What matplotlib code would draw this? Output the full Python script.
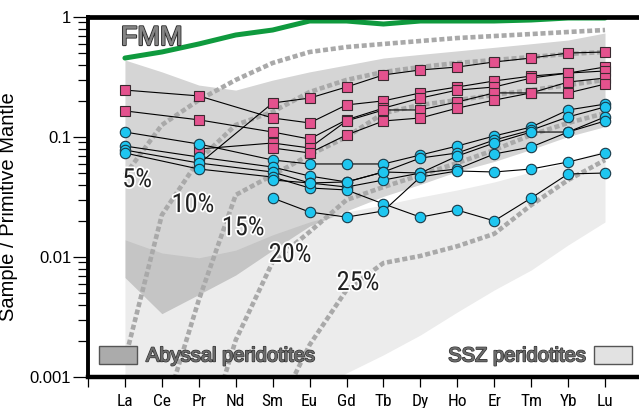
import numpy as np
import matplotlib
matplotlib.use("Agg")
import matplotlib.pyplot as plt
import matplotlib.patheffects as pe
from matplotlib import font_manager as fm
from matplotlib.patches import Rectangle
from matplotlib.ticker import FixedLocator, NullFormatter

# ---- data -----------------------------------------------------------------
elements = ["La", "Ce", "Pr", "Nd", "Sm", "Eu", "Gd", "Tb", "Dy", "Ho", "Er", "Tm", "Yb", "Lu"]

# Fertile MORB mantle
fmm = [0.455, 0.511, 0.596, 0.708, 0.779, 0.926, 0.926, 0.874, 0.926, 0.926, 0.926, 0.944, 0.981, 0.981]

# Samples (None = not analysed)
pink_samples = [
    [None, None, 0.0596, None, 0.192, 0.211, 0.261, 0.329, 0.362, 0.383, 0.422, 0.455, 0.501, 0.511],
    [0.246, None, 0.220, None, 0.144, 0.131, 0.185, 0.200, 0.233, 0.261, 0.293, 0.322, 0.341, 0.383],
    [0.165, None, 0.139, None, 0.110, 0.0962, 0.139, 0.174, 0.211, 0.246, 0.261, 0.310, 0.341, 0.355],
    [None, None, 0.0794, None, 0.0891, 0.0810, 0.136, 0.168, 0.168, 0.196, 0.233, 0.233, 0.287, 0.310],
    [None, None, None, None, 0.0810, 0.0736, 0.104, 0.136, 0.144, 0.174, 0.203, 0.233, 0.233, 0.276],
]
blue_samples = [
    [0.110, None, 0.0874, None, 0.0643, 0.0596, 0.0596, 0.0596, 0.0708, 0.0841, 0.102, 0.121, 0.168, 0.188],
    [0.0841, None, 0.0681, None, 0.0562, 0.0473, 0.0422, 0.0511, 0.0668, 0.0736, 0.0944, 0.114, 0.147, 0.178],
    [0.0779, None, 0.0607, None, 0.0511, 0.0414, 0.0383, 0.0438, 0.0501, 0.0694, 0.0891, 0.110, 0.110, 0.147],
    [0.0736, None, 0.0541, None, 0.0464, 0.0376, 0.0362, 0.0277, 0.0215, 0.0246, 0.0200, 0.0310, 0.0492, 0.0501],
    [None, None, None, None, 0.0438, 0.0414, 0.0422, 0.0511, 0.0501, 0.0541, 0.0722, 0.0825, 0.110, 0.136],
    [None, None, None, None, 0.0310, 0.0237, 0.0215, 0.0242, 0.0464, 0.0521, 0.0511, 0.0541, 0.0619, 0.0736],
]

# Compositional fields (upper / lower envelopes)
abyssal_upper = [0.438, 0.349, 0.271, 0.246, 0.298, 0.349, 0.398, 0.455, 0.488, 0.522, 0.559, 0.599, 0.643, 0.736]
abyssal_lower = [0.00675, 0.00337, 0.00487, 0.00708, 0.0114, 0.0181, 0.0242, 0.0320, 0.0403, 0.0516, 0.0625, 0.0787, 0.101, 0.122]
ssz_upper = [0.0139, 0.0108, 0.00984, 0.0114, 0.0153, 0.0196, 0.0237, 0.0272, 0.0316, 0.0362, 0.0422, 0.0511, 0.0619, 0.078]
ssz_lower = [0.0003, 0.0003, 0.0003, 0.0003, 0.000529, 0.000708, 0.00108, 0.00153, 0.00224, 0.00348, 0.00531, 0.00779, 0.0126, 0.0196]

# Melting curves (degree of partial melting)
melt_labels = ["5%", "10%", "15%", "20%", "25%"]
melt_curves = [
    [0.0482, 0.126, 0.203, 0.299, 0.414, 0.511, 0.562, 0.596, 0.631, 0.668, 0.694, 0.721, 0.750, 0.779],
    [0.00139, 0.0224, 0.0643, 0.126, 0.162, 0.237, 0.299, 0.348, 0.383, 0.414, 0.438, 0.464, 0.492, 0.511],
    [0.0001, 0.00044, 0.00438, 0.0329, 0.0482, 0.0708, 0.100, 0.158, 0.185, 0.203, 0.224, 0.246, 0.271, 0.299],
    [0.0001, 0.0001, 0.0002, 0.00203, 0.00909, 0.0162, 0.0299, 0.0383, 0.0482, 0.0607, 0.0779, 0.104, 0.131, 0.158],
    [0.0001, 0.0001, 0.0001, 0.0001, 0.00044, 0.00185, 0.00531, 0.00891, 0.0102, 0.0123, 0.0156, 0.0271, 0.0438, 0.0643],
]
melt_label_pos = [(1.33, 0.0438), (2.84, 0.0271), (4.2, 0.0174), (5.47, 0.0104), (7.31, 0.00607)]


# ---- fonts -------------------------------------------------------------------
def narrow_font():
    names = {f.name for f in fm.fontManager.ttflist}
    for name in ("Liberation Sans Narrow", "Arial Narrow", "Roboto Condensed",
                 "Open Sans Condensed", "Noto Sans Condensed"):
        if name in names:
            return dict(family=[name, "DejaVu Sans"])
    for f in fm.fontManager.ttflist:
        if (f.name in ("Roboto", "Open Sans", "Noto Sans")
                and str(f.stretch) in ("condensed", "semi-condensed")
                and f.style == "normal" and f.weight in (400, "normal", "regular")):
            return dict(family=[f.name, "DejaVu Sans"], stretch=f.stretch)
    return dict(family=["Liberation Sans", "DejaVu Sans"])


NARROW = narrow_font()
SANS = ["Liberation Sans", "DejaVu Sans"]

# ---- figure -----------------------------------------------------------------
W, H = 639, 408
fig = plt.figure(figsize=(W / 100, H / 100), dpi=100)
ax = fig.add_axes([88 / W, 1 - 377 / H, (W - 88) / W, (377 - 17) / H])

x = np.arange(1, len(elements) + 1)

ax.fill_between(x, ssz_lower, ssz_upper, color="#ececec", lw=0, zorder=1)
ax.fill_between(x, abyssal_lower, abyssal_upper, color="black", alpha=0.165, lw=0, zorder=1.1)

for curve in melt_curves:
    ax.plot(x, curve, color="#a9a9a9", lw=3.3, ls=(0, (1.1, 0.6)), zorder=2,
            dash_capstyle="butt")

halo = [pe.withStroke(linewidth=2.5, foreground="white")]
for lab, (lx, ly) in zip(melt_labels, melt_label_pos):
    ax.text(lx, ly, lab, fontsize=19, color="#222222", ha="center", va="center",
            path_effects=halo, zorder=3, **NARROW)

ax.plot(x, fmm, color="#0f9a3e", lw=3.6, zorder=3, solid_capstyle="round")
ax.text(0.89, 0.668, "FMM", fontsize=19.5, color="#858585", ha="left", va="center",
        family=SANS,
        path_effects=[pe.withStroke(linewidth=1.6, foreground="#333333"), pe.Normal()], zorder=3)


def series_xy(vals):
    xs = [xi for xi, v in zip(x, vals) if v is not None]
    ys = [v for v in vals if v is not None]
    return xs, ys


for vals in pink_samples + blue_samples:
    xs, ys = series_xy(vals)
    ax.plot(xs, ys, color="black", lw=0.8, zorder=4)
for vals in pink_samples:
    xs, ys = series_xy(vals)
    ax.plot(xs, ys, ls="none", marker="s", ms=7, mfc="#e4528e", mec="#3a2a30", mew=0.8, zorder=5)
for vals in blue_samples:
    xs, ys = series_xy(vals)
    ax.plot(xs, ys, ls="none", marker="o", ms=7.5, mfc="#1ec6f0", mec="#1a3a48", mew=0.8, zorder=6)

# axes styling
ax.set_yscale("log")
ax.set_ylim(0.001, 1)
ax.set_xlim(0, 14.92)
ax.set_xticks(np.arange(0, len(elements) + 1))
ax.set_xticklabels([""] + elements, fontsize=12.5, **NARROW)
ax.set_yticks([0.001, 0.01, 0.1, 1])
ax.set_yticklabels(["0.001", "0.01", "0.1", "1"], family=SANS, fontsize=12)
minors = [m * 10.0 ** d for d in (-3, -2, -1) for m in range(2, 10)]
ax.yaxis.set_minor_locator(FixedLocator(minors))
ax.yaxis.set_minor_formatter(NullFormatter())
ax.tick_params(axis="y", which="major", length=11, width=0.9, direction="out", pad=1)
ax.tick_params(axis="y", which="minor", length=7, width=0.9, direction="out")
ax.tick_params(axis="x", which="major", length=7, width=0.9, direction="out", pad=5)
ax.spines["right"].set_visible(False)
ax.spines["left"].set_linewidth(2.8)
ax.spines["top"].set_linewidth(3.4)
ax.spines["bottom"].set_linewidth(3.2)
for s in ax.spines.values():
    s.set_zorder(8)
ax.set_ylabel("Sample / Primitive Mantle", fontsize=14.5, family=SANS)
ax.yaxis.set_label_coords(-0.127, 0.472)

# legend swatches
legend_style = dict(fontsize=14.5, color="#6b6b6b", va="center", family=SANS,
                    path_effects=[pe.withStroke(linewidth=1.2, foreground="#333333"), pe.Normal()],
                    zorder=7)
ax.add_patch(Rectangle((0.30, 0.00128), 1.03, 0.00053, facecolor="#ababab",
                       edgecolor="#555555", lw=1, zorder=7))
ax.text(1.57, 0.0015, "Abyssal peridotites", ha="left", **legend_style)
ax.add_patch(Rectangle((13.71, 0.00128), 1.03, 0.00053, facecolor="#e2e2e2",
                       edgecolor="#555555", lw=1, zorder=7))
ax.text(13.49, 0.0015, "SSZ peridotites", ha="right", **legend_style)

fig.savefig("out.png", dpi=100)
